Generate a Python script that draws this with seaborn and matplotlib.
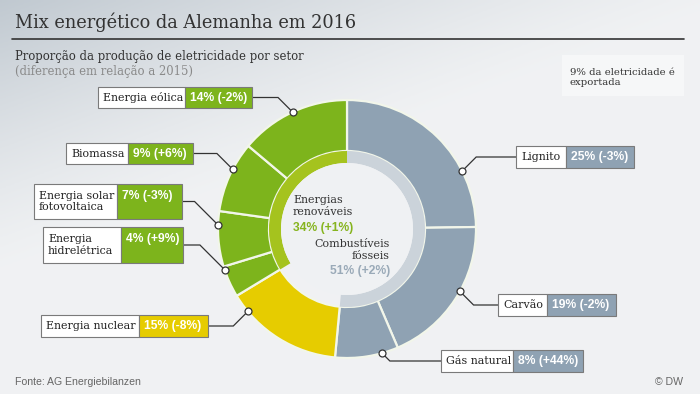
import numpy as np
import matplotlib
matplotlib.use("Agg")
import matplotlib.pyplot as plt
import seaborn as sns
from matplotlib.patches import Rectangle, Circle

# ---------------- data ----------------
sectors = ["Lignito", "Carvão", "Gás natural", "Energia nuclear",
           "Energia\nhidrelétrica", "Energia solar\nfotovoltaica", "Biomassa", "Energia eólica"]
shares = [25, 19, 8, 15, 4, 7, 9, 14]
changes = ["-3%", "-2%", "+44%", "-8%", "+9%", "-3%", "+6%", "-2%"]
groups = ["fossil", "fossil", "fossil", "nuclear", "renew", "renew", "renew", "renew"]
group_labels = {"renew": ("Energias\nrenováveis", "34% (+1%)"),
                "fossil": ("Combustíveis\nfósseis", "51% (+2%)")}
title = "Mix energético da Alemanha em 2016"
subtitle = "Proporção da produção de eletricidade por setor"
subtitle2 = "(diferença em relação a 2015)"
note = "9% da eletricidade é\nexportada"
source = "Fonte: AG Energiebilanzen"
credit = "© DW"

# ---------------- style ----------------
sns.set_theme(style="white")
SERIF = ["DejaVu Serif"]
SANS = ["Liberation Sans", "DejaVu Sans"]
col = {"fossil": "#8fa2b3", "nuclear": "#e6cc00", "renew": "#7db41c"}
inner_col = {"fossil": "#cbd3da", "nuclear": None, "renew": "#a5c31e"}

W, H = 700, 394
fig = plt.figure(figsize=(7, 3.94), dpi=100)
ax = fig.add_axes([0, 0, 1, 1])

def fy(y):
    return H - y

# background gradient (row 0 = top of picture)
gx, gy = np.meshgrid(np.linspace(0, 1, 240), np.linspace(0, 1, 140))
g = np.clip(1 - (gx * 0.95 + gy * 1.45), 0, 1) ** 1.3
c0 = np.array([0.942, 0.948, 0.955])
c1 = np.array([0.755, 0.788, 0.818])
img = c0[None, None, :] * (1 - g[..., None]) + c1[None, None, :] * g[..., None]
ax.imshow(img, extent=[0, W, 0, H], aspect="auto", zorder=0)

cx, cy = 347, fy(229)
R_out, R_mid, R_in = 129, 78, 66

colors = [col[g_] for g_ in groups]
wedges, _ = ax.pie(shares, colors=colors, startangle=90, counterclock=False,
                   center=(cx, cy), radius=R_out,
                   wedgeprops=dict(width=R_out - R_mid, edgecolor="#f2f6ea", linewidth=1.6))

# inner ring built from group sums
order = ["fossil", "nuclear", "renew"]
gsum = [sum(s for s, g_ in zip(shares, groups) if g_ == k) for k in order]
icolors = [inner_col[k] if inner_col[k] else "none" for k in order]
ax.pie(gsum, colors=icolors, startangle=90, counterclock=False,
       center=(cx, cy), radius=R_mid,
       wedgeprops=dict(width=R_mid - R_in, edgecolor="none", linewidth=0))
ax.add_patch(Circle((cx, cy), R_in, facecolor="#eff1f3", edgecolor="none", zorder=3))

# label boxes: x0, xsplit, x1, y0, y1 (pixels from top); anchor = position inside wedge
boxes = [
    (516, 566, 634, 146, 168),   # Lignito
    (498, 547, 616, 294, 316),   # Carvão
    (441, 513, 583, 350, 372),   # Gás natural
    (41, 139, 208, 315, 337),    # Nuclear
    (43, 121, 183, 227, 263),    # Hidro
    (34, 117, 182, 184, 219),    # Solar
    (66, 128, 193, 143, 164),    # Biomassa
    (98, 185, 252, 87, 108),     # Eólica
]
anchor = [0.71, 0.44, 0.26, 0.84, 0.9, 0.75, 0.61, 0.5]

for w, name, val, chg, grp, (x0, xs, x1, y0, y1), fr in zip(
        wedges, sectors, shares, changes, groups, boxes, anchor):
    ang = np.deg2rad(w.theta2 + (w.theta1 - w.theta2) * fr)
    mx, my = cx + R_out * np.cos(ang), cy + R_out * np.sin(ang)
    bcy = fy((y0 + y1) / 2)
    right = mx > cx
    dy = abs(my - bcy)
    ex = mx + dy if right else mx - dy
    bx = x0 if right else x1
    ax.plot([mx, ex, bx], [my, bcy, bcy], color="#333333", lw=0.9, zorder=5,
            solid_joinstyle="miter")
    ax.plot([mx], [my], "o", ms=5, mfc="white", mec="#333333", mew=0.9, zorder=6)
    ax.add_patch(Rectangle((x0, fy(y1)), xs - x0, y1 - y0, facecolor="white",
                           edgecolor="#7a7a7a", lw=0.8, zorder=5))
    ax.add_patch(Rectangle((xs, fy(y1)), x1 - xs, y1 - y0, facecolor=col[grp],
                           edgecolor="#7a7a7a", lw=0.8, zorder=5))
    nlines = name.count("\n") + 1
    ax.text(x0 + 5, fy(y0 + (y1 - y0) / 2), name, family=SERIF, fontsize=7.9,
            color="#222222", ha="left", va="center", zorder=7, linespacing=1.2)
    vy = fy((y0 + y1) / 2) if nlines == 1 else fy(y0 + 12)
    ax.text(xs + 5, vy, f"{val}% ({chg})", family=SANS, fontsize=8.7, weight="bold",
            color="white", ha="left", va="center", zorder=7)

# center labels
rl, rv = group_labels["renew"]
ax.text(293, fy(206), rl, family=SERIF, fontsize=7.9, color="#333333",
        ha="left", va="center", zorder=7, linespacing=1.25)
ax.text(293, fy(228), rv, family=SANS, fontsize=8.7, weight="bold",
        color="#86b41e", ha="left", va="center", zorder=7)
fl, fv = group_labels["fossil"]
ax.text(390, fy(250), fl, family=SERIF, fontsize=7.9, color="#333333",
        ha="right", va="center", zorder=7, linespacing=1.25)
ax.text(390, fy(271), fv, family=SANS, fontsize=8.7, weight="bold",
        color="#9aaab8", ha="right", va="center", zorder=7)

# titles
ax.text(15, fy(28), title, family=SERIF, fontsize=12.8, color="#333333",
        ha="left", va="baseline", zorder=7)
ax.plot([12, 684], [fy(39), fy(39)], color="#333333", lw=1.2, zorder=7)
ax.text(15, fy(56), subtitle, family=SERIF, fontsize=8.4, color="#333333",
        ha="left", va="center", zorder=7)
ax.text(15, fy(71), subtitle2, family=SERIF, fontsize=8.4, color="#8a8a8a",
        ha="left", va="center", zorder=7)

# note box
ax.add_patch(Rectangle((562, fy(96)), 122, 41, facecolor="#f6f7f8",
                       edgecolor="none", zorder=5))
ax.text(570, fy(77.5), note, family=SERIF, fontsize=7.3, color="#333333",
        ha="left", va="center", zorder=7, linespacing=1.25)

# footer
ax.text(15, fy(382), source, family=SANS, fontsize=7.6, color="#666666",
        ha="left", va="center", zorder=7)
ax.text(683, fy(382), credit, family=SANS, fontsize=7.6, color="#666666",
        ha="right", va="center", zorder=7)

ax.set_xlim(0, W)
ax.set_ylim(0, H)
ax.set_aspect("auto")
ax.axis("off")
fig.savefig("out.png", dpi=100)
